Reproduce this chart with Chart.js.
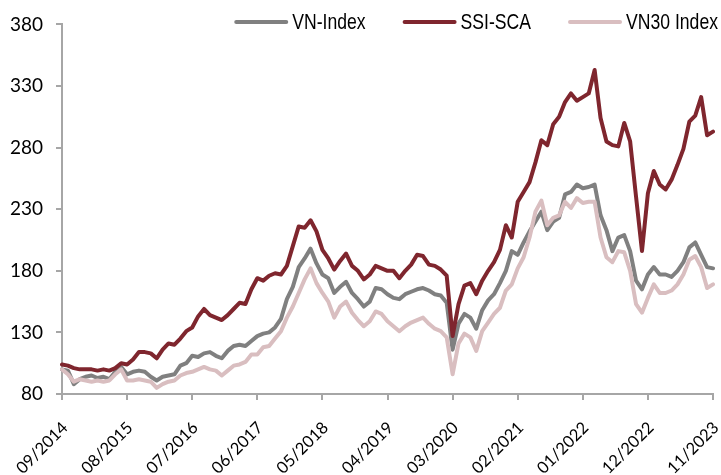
<!DOCTYPE html>
<html>
<head>
<meta charset="utf-8">
<script src="https://cdn.jsdelivr.net/npm/chart.js@4.4.1/dist/chart.umd.min.js"></script>
<style>
  html, body { margin: 0; padding: 0; background: #fff; }
  #wrap { width: 721px; height: 475px; }
</style>
</head>
<body>
<div id="wrap"><canvas id="perfChart" width="721" height="475"></canvas></div>
<script>
// monthly categories, 09/2014 .. 11/2023
const months = [
  "09/2014","10/2014","11/2014","12/2014",
  "01/2015","02/2015","03/2015","04/2015","05/2015","06/2015","07/2015","08/2015","09/2015","10/2015","11/2015","12/2015",
  "01/2016","02/2016","03/2016","04/2016","05/2016","06/2016","07/2016","08/2016","09/2016","10/2016","11/2016","12/2016",
  "01/2017","02/2017","03/2017","04/2017","05/2017","06/2017","07/2017","08/2017","09/2017","10/2017","11/2017","12/2017",
  "01/2018","02/2018","03/2018","04/2018","05/2018","06/2018","07/2018","08/2018","09/2018","10/2018","11/2018","12/2018",
  "01/2019","02/2019","03/2019","04/2019","05/2019","06/2019","07/2019","08/2019","09/2019","10/2019","11/2019","12/2019",
  "01/2020","02/2020","03/2020","04/2020","05/2020","06/2020","07/2020","08/2020","09/2020","10/2020","11/2020","12/2020",
  "01/2021","02/2021","03/2021","04/2021","05/2021","06/2021","07/2021","08/2021","09/2021","10/2021","11/2021","12/2021",
  "01/2022","02/2022","03/2022","04/2022","05/2022","06/2022","07/2022","08/2022","09/2022","10/2022","11/2022","12/2022",
  "01/2023","02/2023","03/2023","04/2023","05/2023","06/2023","07/2023","08/2023","09/2023","10/2023","11/2023"
];

// labels actually printed on the x axis
const tickLabels = ["09/2014","08/2015","07/2016","06/2017","05/2018","04/2019","03/2020","02/2021","01/2022","12/2022","11/2023"];

const yTicks = [80, 130, 180, 230, 280, 330, 380];

// rebased to 100
const vnIndex = [
  100, 99, 88, 92, 94, 95, 93, 94, 92, 98, 102, 96,
  98, 99, 98, 94, 91, 94, 95, 96, 103, 105, 111, 110,
  113, 114, 111, 109, 115, 119, 120, 119, 123, 127, 129, 130,
  134, 141, 157, 167, 183, 190, 198, 186, 177, 174, 162, 167,
  171, 162, 157, 151, 155, 166, 165, 161, 158, 157, 161, 163,
  165, 166, 164, 161, 160, 154, 116, 137, 145, 142, 133, 148,
  156, 161, 170, 180, 196, 193, 203, 212, 220, 228, 213, 220,
  223, 242, 244, 250, 247, 248, 250, 225, 213, 196, 207, 209,
  196, 172, 165, 177, 183, 177, 177, 175, 180, 187, 199, 203,
  193, 183, 182
];

const ssiSca = [
  104, 103, 101, 100, 100, 100, 99, 100, 99, 101, 105, 104,
  108, 114, 114, 113, 109, 116, 121, 120, 125, 131, 134, 143,
  149, 144, 142, 140, 144, 149, 154, 153, 165, 174, 172, 176,
  178, 177, 184, 200, 216, 215, 221, 212, 197, 190, 181, 188,
  194, 184, 180, 173, 177, 184, 182, 180, 180, 174, 180, 185,
  193, 192, 185, 184, 181, 176, 127, 153, 168, 170, 161, 172,
  180, 187, 197, 217, 207, 236, 244, 252, 268, 286, 282, 299,
  305, 317, 324, 318, 321, 324, 343, 304, 285, 282, 281, 300,
  285, 240, 196, 243, 261, 250, 246, 254, 266, 279, 301, 306,
  321, 290, 293
];

const vn30 = [
  100, 96, 90, 92, 91, 90, 91, 90, 91, 96, 100, 91,
  91, 92, 91, 90, 85, 88, 90, 91, 95, 97, 98, 100,
  102, 100, 99, 95, 99, 103, 104, 106, 112, 112, 118, 119,
  125, 131, 142, 151, 162, 173, 182, 170, 162, 155, 142, 151,
  155, 146, 140, 135, 139, 147, 145, 139, 135, 131, 135, 138,
  140, 142, 137, 133, 131, 126, 96, 121, 129, 126, 115, 131,
  138, 145, 150, 164, 169, 182, 191, 207, 228, 237, 217, 223,
  225, 236, 231, 239, 235, 236, 236, 207, 191, 187, 196, 195,
  180, 153, 146, 158, 169, 162, 162, 164, 169, 177, 189, 192,
  183, 166, 169
];

const axisColor = '#a6a6a6';
const yFont = { family: 'Lato, sans-serif', size: 19 };
const xFont = { family: 'Lato, sans-serif', size: 16.5 };

// legend drawn as line swatches inside the top of the plot
const lineLegend = {
  id: 'lineLegend',
  afterDraw(chart) {
    const ctx = chart.ctx;
    const sets = chart.data.datasets;
    const swatch = 54, gap = 4, itemGap = 37, y = 22, squeeze = 0.8;
    ctx.save();
    ctx.font = '22px "Liberation Sans", Arial, sans-serif';
    const textW = ds => ctx.measureText(ds.label).width * squeeze;
    let total = 0;
    sets.forEach((ds, i) => {
      total += swatch + gap + textW(ds) + (i ? itemGap : 0);
    });
    let x = 718 - total;
    sets.forEach(ds => {
      ctx.strokeStyle = ds.borderColor;
      ctx.lineWidth = 4;
      ctx.lineCap = 'round';
      ctx.beginPath();
      ctx.moveTo(x + 2, y);
      ctx.lineTo(x + swatch - 2, y);
      ctx.stroke();
      x += swatch + gap;
      // narrow face: squeeze regular sans horizontally
      ctx.save();
      ctx.translate(x, y + 1);
      ctx.scale(squeeze, 1);
      ctx.fillStyle = '#000';
      ctx.textBaseline = 'middle';
      ctx.fillText(ds.label, 0, 0);
      ctx.restore();
      x += textW(ds) + itemGap;
    });
    ctx.restore();
  }
};

new Chart(document.getElementById('perfChart'), {
  type: 'line',
  data: {
    labels: months,
    datasets: [
      { label: 'VN-Index', data: vnIndex, borderColor: '#808080', order: 3 },
      { label: 'SSI-SCA', data: ssiSca, borderColor: '#7f262e', order: 2 },
      { label: 'VN30 Index', data: vn30, borderColor: '#d9bec0', order: 1 }
    ]
  },
  options: {
    responsive: false,
    animation: false,
    layout: { padding: { top: 22, right: 8, left: 0, bottom: 0 } },
    elements: {
      line: { borderWidth: 4, tension: 0, borderJoinStyle: 'round', borderCapStyle: 'round', fill: false },
      point: { radius: 0, hoverRadius: 0 }
    },
    plugins: {
      legend: { display: false },
      tooltip: { enabled: false }
    },
    scales: {
      x: {
        type: 'category',
        offset: false,
        grid: { drawOnChartArea: false, drawTicks: true, tickLength: 6, color: axisColor, lineWidth: 2 },
        border: { color: axisColor, width: 2 },
        ticks: {
          autoSkip: false,
          maxRotation: 45,
          minRotation: 45,
          padding: 18,
          labelOffset: 3,
          color: '#000',
          font: xFont,
          callback(val, i) {
            const lab = months[i];
            return tickLabels.includes(lab) ? lab : null;
          }
        },
        afterFit(scale) {
          scale.height = 81;
          scale.paddingLeft = 0;
          scale.paddingRight = 0;
        }
      },
      y: {
        min: yTicks[0],
        max: yTicks[yTicks.length - 1],
        grid: { drawOnChartArea: false, drawTicks: true, tickLength: 6, color: axisColor, lineWidth: 2 },
        border: { color: axisColor, width: 2 },
        ticks: { stepSize: 50, padding: 13, color: '#000', font: yFont },
        afterFit(scale) { scale.width = 62; }
      }
    }
  },
  plugins: [lineLegend]
});
</script>
</body>
</html>
